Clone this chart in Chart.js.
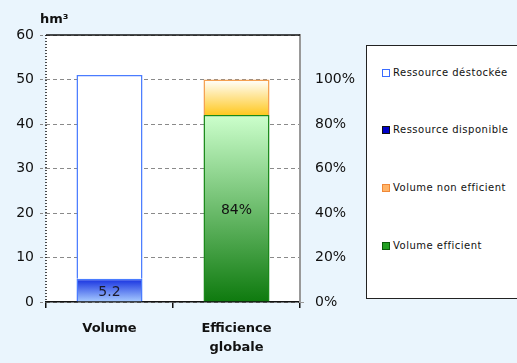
<!DOCTYPE html>
<html>
<head>
<meta charset="utf-8">
<script src="https://cdn.jsdelivr.net/npm/chart.js@4"></script>
<style>
  html, body { margin: 0; padding: 0; background: #eaf5fd; overflow: hidden; }
  #wrap { position: relative; width: 517px; height: 363px; overflow: hidden; }
  canvas { display: block; }
  #legend {
    position: absolute; left: 366px; top: 45px; width: 300px; height: 254px;
    background: #fff; border: 1.5px solid #222; border-right: none; box-sizing: border-box;
    font-family: "DejaVu Sans", sans-serif; font-size: 10px; letter-spacing: 0.5px; color: #111;
  }
  .item { position: absolute; left: 15px; display: flex; align-items: center; white-space: nowrap; }
  .box { width: 6px; height: 6px; border: 1.5px solid; margin-right: 3px; }
</style>
</head>
<body>
<div id="wrap">
  <canvas id="c" width="517" height="363"></canvas>
  <div id="legend"></div>
</div>
<script>
// ---- data ----
const categories = ["Volume", ["Efficience", "globale"]];
const seriesNames = ["Ressource déstockée", "Ressource disponible", "Volume non efficient", "Volume efficient"];
const disponible = [5.2, null];     // hm3
const destockee = [45.8, null];     // hm3, total 51
const efficient = [null, 84];       // %
const nonEfficient = [null, 16];    // %
const leftTicks = [0, 10, 20, 30, 40, 50, 60];
const rightTicks = [0, 20, 40, 60, 80, 100];
const unitLabel = "hm³";

const font = "DejaVu Sans";

// gradient helper, built from the bar's own value range on its scale
function grad(scaleId, from, to, top, bottom) {
  return function (ctx) {
    const chart = ctx.chart;
    if (!chart.chartArea) return bottom;
    const s = chart.scales[scaleId];
    const g = chart.ctx.createLinearGradient(0, s.getPixelForValue(to), 0, s.getPixelForValue(from));
    g.addColorStop(0, top);
    g.addColorStop(1, bottom);
    return g;
  };
}

const plotBg = {
  id: "plotBg",
  beforeDraw(chart) {
    const { ctx, chartArea: a } = chart;
    ctx.save();
    ctx.fillStyle = "#fff";
    ctx.fillRect(a.left, a.top, a.right - a.left, a.bottom - a.top);
    ctx.restore();
  },
  afterDatasetsDraw(chart) {
    const { ctx, chartArea: a } = chart;
    ctx.save();
    // top border
    ctx.strokeStyle = "#111";
    ctx.lineWidth = 1.5;
    ctx.beginPath();
    ctx.moveTo(a.left, a.top);
    ctx.lineTo(a.right, a.top);
    ctx.stroke();
    // dotted left border
    ctx.setLineDash([1, 2]);
    ctx.beginPath();
    ctx.moveTo(a.left, a.top);
    ctx.lineTo(a.left, a.bottom);
    ctx.stroke();
    ctx.setLineDash([]);
    // unit
    ctx.fillStyle = "#111";
    ctx.font = "bold 13px " + font;
    ctx.textBaseline = "alphabetic";
    ctx.fillText(unitLabel, 40, 23);
    // value labels
    ctx.font = "14px " + font;
    ctx.textAlign = "center";
    ctx.textBaseline = "middle";
    const m1 = chart.getDatasetMeta(0).data[0];
    ctx.fillStyle = "#1a1a2a";
    ctx.fillText(String(disponible[0]), m1.x, (m1.y + m1.base) / 2 + 2);
    const m3 = chart.getDatasetMeta(2).data[1];
    ctx.fillStyle = "#111";
    ctx.fillText(efficient[1] + "%", m3.x, (m3.y + m3.base) / 2 + 2);
    ctx.restore();
  }
};

new Chart(document.getElementById("c"), {
  type: "bar",
  data: {
    labels: categories,
    datasets: [
      {
        label: seriesNames[1], data: disponible, yAxisID: "y", stack: "s",
        backgroundColor: grad("y", 0, 5.2, "#1530e0", "#a8ccff"),
        borderColor: "#4a7cff", borderWidth: 1.5
      },
      {
        label: seriesNames[0], data: destockee, yAxisID: "y", stack: "s",
        backgroundColor: "#ffffff", borderColor: "#4a7cff", borderWidth: 1.5
      },
      {
        label: seriesNames[3], data: efficient, yAxisID: "y2", stack: "s",
        backgroundColor: grad("y2", 0, 84, "#ccffcc", "#0e7a0e"),
        borderColor: "#1a8a1a", borderWidth: 1.5
      },
      {
        label: seriesNames[2], data: nonEfficient, yAxisID: "y2", stack: "s",
        backgroundColor: grad("y2", 84, 100, "#ffffff", "#ffc820"),
        borderColor: "#f5a050", borderWidth: 1.5
      }
    ]
  },
  options: {
    responsive: false,
    animation: false,
    layout: { padding: { top: 35, left: 0, right: 0, bottom: 0 } },
    plugins: { legend: { display: false }, tooltip: { enabled: false } },
    datasets: { bar: { categoryPercentage: 1, barPercentage: 0.52 } },
    scales: {
      x: {
        stacked: true,
        grid: { offset: true, drawOnChartArea: false, color: "#111", tickLength: 6, lineWidth: 1.5 },
        border: { color: "#111", width: 1.5 },
        ticks: { color: "#111", font: { family: font, size: 13, weight: "bold", lineHeight: 1.45 }, padding: 11 },
        afterFit(s) { s.height = 61; }
      },
      y: {
        stacked: true, min: 0, max: 60,
        afterBuildTicks(s) { s.ticks = leftTicks.map(v => ({ value: v })); },
        grid: { color: "#8a8a8a", tickLength: 6, lineWidth: 1, tickBorderDash: [3, 2] },
        border: { display: false, dash: [4, 3] },
        ticks: { color: "#111", font: { family: font, size: 14 }, padding: 6 },
        afterFit(s) { s.width = 46; }
      },
      y2: {
        stacked: true, min: 0, max: 120, position: "right",
        afterBuildTicks(s) { s.ticks = rightTicks.map(v => ({ value: v })); },
        grid: { drawOnChartArea: false, color: "#999", tickLength: 4, tickColor: (c) => c.tick && c.tick.value === 0 ? "#999" : "rgba(0,0,0,0)" },
        border: { display: true, color: "#999", width: 2 },
        ticks: { color: "#111", font: { family: font, size: 14 }, padding: 11, callback: v => v + "%" },
        afterFit(s) { s.width = 217; }
      }
    }
  },
  plugins: [plotBg]
});

// ---- legend ----
const legendColors = [
  { fill: "#ffffff", line: "#3a6cff" },
  { fill: "#0000c8", line: "#111" },
  { fill: "#ffb468", line: "#f08838" },
  { fill: "#22a022", line: "#0a5a0a" }
];
const legendTops = [21, 78, 136, 194];
const lg = document.getElementById("legend");
seriesNames.forEach((name, i) => {
  const d = document.createElement("div");
  d.className = "item";
  d.style.top = legendTops[i] + "px";
  d.innerHTML = '<span class="box" style="background:' + legendColors[i].fill +
    ";border-color:" + legendColors[i].line + '"></span>' + name;
  lg.appendChild(d);
});
</script>
</body>
</html>
